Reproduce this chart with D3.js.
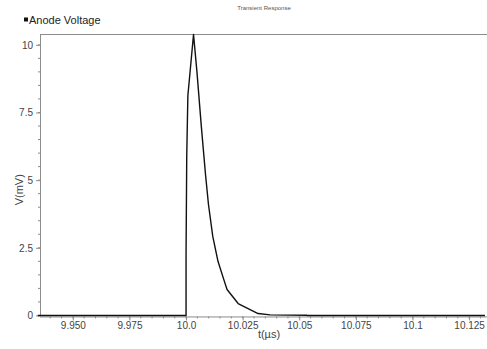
<!DOCTYPE html>
<html>
<head>
<meta charset="utf-8">
<script src="https://cdn.jsdelivr.net/npm/d3@7"></script>
<style>
  body { margin: 0; background: #fff; }
  text { font-family: "Liberation Sans", Arial, sans-serif; }
</style>
</head>
<body>
<div id="chart"></div>
<script>
// ---- Data (time in µs, voltage in mV) ----
const timeUs = [9.9345, 10.0, 10.0, 10.0003, 10.0008, 10.0033, 10.0048, 10.0068, 10.0086,
  10.0099, 10.0118, 10.0141, 10.0165, 10.0181, 10.0230, 10.0318, 10.0371, 10.0534, 10.0535, 10.132];
const voltageMv = [0, 0, 2.25, 5.87, 8.12, 10.38, 9.01, 6.93, 5.2,
  4.1, 2.92, 2.0, 1.37, 0.96, 0.44, 0.07, 0.02, 0.008, 0, 0];

const xTickValues = [9.950, 9.975, 10.0, 10.025, 10.05, 10.075, 10.1, 10.125];
const xTickLabels = ['9.950', '9.975', '10.0', '10.025', '10.05', '10.075', '10.1', '10.125'];
const yTickValues = [0, 2.5, 5, 7.5, 10];
const yTickLabels = ['0', '2.5', '5', '7.5', '10'];

const seriesName = 'Anode Voltage';
const chartTitle = 'Transient Response';

// ---- Dimensions ----
const width = 487, height = 349;
const margin = { top: 34, right: 0, bottom: 33, left: 40 };

const svg = d3.select('#chart').append('svg')
  .attr('width', width)
  .attr('height', height);

const x = d3.scaleLinear()
  .domain([9.9355, 10.1329])
  .range([margin.left, width - margin.right]);

const y = d3.scaleLinear()
  .domain([-0.02, 10.4])
  .range([height - margin.bottom, margin.top]);

const axisColor = '#8c8c8c';
const textColor = '#444';

// ---- Title & legend ----
svg.append('text')
  .attr('x', 264).attr('y', 10)
  .attr('text-anchor', 'middle')
  .attr('font-size', '6px')
  .attr('fill', '#555')
  .text(chartTitle);

svg.append('rect')
  .attr('x', 24).attr('y', 17.5)
  .attr('width', 4).attr('height', 4)
  .attr('fill', '#111');

svg.append('text')
  .attr('x', 29).attr('y', 24)
  .attr('font-size', '11px')
  .attr('fill', '#222')
  .text(seriesName);

// ---- Minor ticks ----
const minorX = d3.range(9.935, 10.1325, 0.005).filter(v => x(v) >= margin.left);
svg.append('g')
  .selectAll('line')
  .data(minorX)
  .join('line')
  .attr('x1', d => x(d)).attr('x2', d => x(d))
  .attr('y1', y(0) + 1).attr('y2', y(0) + 3)
  .attr('stroke', axisColor);

const minorY = d3.range(0, 10.5, 0.5);
svg.append('g')
  .selectAll('line')
  .data(minorY)
  .join('line')
  .attr('x1', margin.left - 2).attr('x2', margin.left)
  .attr('y1', d => y(d)).attr('y2', d => y(d))
  .attr('stroke', axisColor);

// ---- Axes ----
const xAxis = d3.axisBottom(x)
  .tickValues(xTickValues)
  .tickFormat((d, i) => xTickLabels[i])
  .tickSize(4)
  .tickSizeOuter(0);

const xg = svg.append('g')
  .attr('transform', `translate(0,${y(0) + 1})`)
  .call(xAxis);
xg.select('.domain').remove();
xg.selectAll('line').attr('stroke', axisColor);
xg.selectAll('text')
  .attr('font-size', '10px')
  .attr('fill', textColor)
  .attr('dy', '0.6em');

const yAxis = d3.axisLeft(y)
  .tickValues(yTickValues)
  .tickFormat((d, i) => yTickLabels[i])
  .tickSize(4)
  .tickSizeOuter(0);

const yg = svg.append('g')
  .attr('transform', `translate(${margin.left},0)`)
  .call(yAxis);
yg.select('.domain').remove();
yg.selectAll('line').attr('stroke', axisColor);
yg.selectAll('text')
  .attr('font-size', '10px')
  .attr('fill', textColor);

// Frame: left, top, bottom lines
svg.append('line')
  .attr('x1', margin.left + 0.5).attr('x2', margin.left + 0.5)
  .attr('y1', margin.top).attr('y2', y(0) + 1)
  .attr('stroke', axisColor);
svg.append('line')
  .attr('x1', margin.left).attr('x2', width)
  .attr('y1', margin.top + 0.5).attr('y2', margin.top + 0.5)
  .attr('stroke', axisColor);
svg.append('line')
  .attr('x1', margin.left).attr('x2', width)
  .attr('y1', y(0) + 1.5).attr('y2', y(0) + 1.5)
  .attr('stroke', axisColor);

// ---- Axis labels ----
svg.append('text')
  .attr('x', 269).attr('y', 338)
  .attr('text-anchor', 'middle')
  .attr('font-size', '11px')
  .attr('fill', textColor)
  .text('t(µs)');

svg.append('text')
  .attr('transform', `translate(23,${(margin.top + y(0)) / 2 + 15}) rotate(-90)`)
  .attr('text-anchor', 'middle')
  .attr('font-size', '11px')
  .attr('fill', textColor)
  .text('V(mV)');

// ---- Line ----
const line = d3.line()
  .x((d, i) => x(timeUs[i]))
  .y(d => y(d));

svg.append('path')
  .datum(voltageMv)
  .attr('d', line)
  .attr('fill', 'none')
  .attr('stroke', '#111')
  .attr('stroke-width', 1.4)
  .attr('stroke-linejoin', 'round');
</script>
</body>
</html>
